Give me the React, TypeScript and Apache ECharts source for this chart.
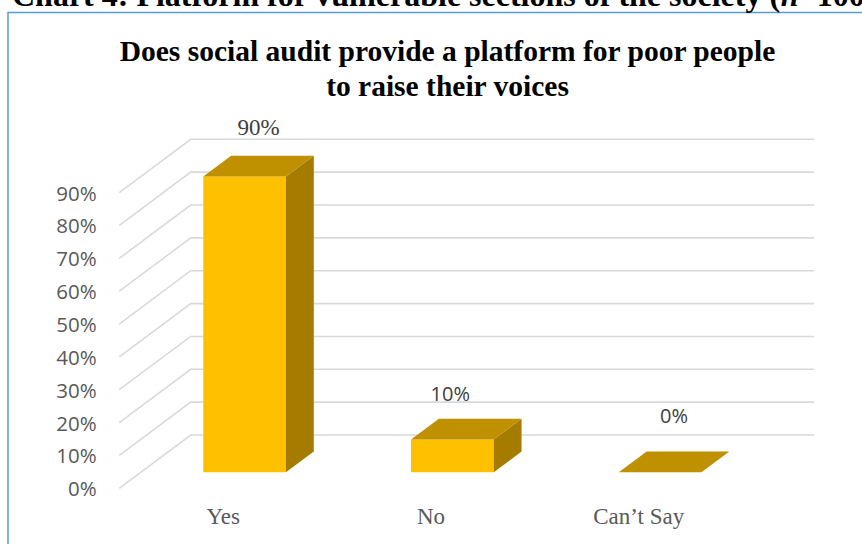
import React, { useEffect, useRef } from "react";
import * as echarts from "echarts";

const CATEGORIES = ["Yes", "No", "Can\u2019t Say"];
const VALUES = [90, 10, 0];
const TICKS = [0, 10, 20, 30, 40, 50, 60, 70, 80, 90];
const TITLE_LINES = ["Does social audit provide a platform for poor people", "to raise their voices"];
const CAPTION = "Chart 4: Platform for vulnerable sections of the society (";

const SERIF = "Liberation Serif";
const SANS = "Open Sans";

// 3D projection constants (pixels)
const WALL_DX = 71.4;
const WALL_DY = 53.3;
const BAR_FRONT = 0.3; // depth fraction of the bar's front face
const BAR_BACK = 0.69; // depth fraction of the bar's back face
const BAR_WIDTH_RATIO = 0.398;
const LABEL_FONTS = ["serif", "sans", "sans"];
const LABEL_SHIFT = [
  [0, -39],
  [-16, -35.5],
  [0, -46],
];

export default function App() {
  const ref = useRef<HTMLDivElement>(null);

  useEffect(() => {
    if (!ref.current) return;
    const chart = echarts.init(ref.current, undefined, { renderer: "svg" });

    const gridData = TICKS.map((t) => [0, t]);
    const barData = VALUES.map((v, i) => [i, v]);

    const option: any = {
      animation: false,
      backgroundColor: "#ffffff",
      title: {
        text: TITLE_LINES.join("\n"),
        left: 442.5,
        top: 28,
        textAlign: "center",
        textStyle: {
          fontFamily: SERIF,
          fontWeight: "bold",
          fontSize: 29.5,
          lineHeight: 35,
          color: "#000000",
        },
      },
      graphic: [
        {
          type: "rect",
          shape: { x: 8, y: 12.5, width: 900, height: 600 },
          style: { fill: "none", stroke: "#5B9BD5", lineWidth: 1.5 },
          z: 0,
        },
        {
          type: "text",
          x: 12,
          y: 11,
          style: {
            text: "{b|" + CAPTION + "}{i|n}{b|=100)}",
            verticalAlign: "bottom",
            rich: {
              b: {
                fontFamily: SERIF,
                fontWeight: "bold",
                fontSize: 32,
                lineHeight: 32,
                fill: "#000000",
              },
              i: {
                fontFamily: SERIF,
                fontWeight: "bold",
                fontStyle: "italic",
                fontSize: 32,
                lineHeight: 32,
                fill: "#000000",
              },
            },
          },
        },
      ],
      grid: { left: 119.3, top: 192.6, width: 623.3, height: 295.7 },
      xAxis: {
        type: "category",
        data: CATEGORIES,
        axisLine: { show: false },
        axisTick: { show: false },
        splitLine: { show: false },
        axisLabel: {
          margin: 17,
          fontFamily: SERIF,
          fontSize: 23,
          color: "#595959",
        },
      },
      yAxis: {
        type: "value",
        min: 0,
        max: 90,
        interval: 10,
        axisLine: { show: false },
        axisTick: { show: false },
        splitLine: { show: false },
        axisLabel: {
          margin: 22.6,
          formatter: "{value}%",
          fontFamily: SANS,
          fontSize: 20.5,
          color: "#595959",
        },
      },
      series: [
        {
          type: "custom",
          name: "walls",
          data: gridData,
          z: 1,
          silent: true,
          renderItem: (params: any, api: any) => {
            const cs = params.coordSys;
            const y = api.coord([0, api.value(1)])[1];
            const x0 = cs.x;
            const x1 = cs.x + cs.width;
            return {
              type: "polyline",
              shape: {
                points: [
                  [x0, y],
                  [x0 + WALL_DX, y - WALL_DY],
                  [x1 + WALL_DX, y - WALL_DY],
                ],
              },
              style: { fill: "none", stroke: "#D9D9D9", lineWidth: 1.6 },
            };
          },
        },
        {
          type: "custom",
          name: "bars",
          data: barData,
          z: 2,
          renderItem: (params: any, api: any) => {
            const idx = api.value(0);
            const val = api.value(1);
            const base = api.coord([idx, 0]);
            const top = api.coord([idx, val]);
            const bw = api.size([1, 0])[0] * BAR_WIDTH_RATIO;
            const fdx = WALL_DX * BAR_FRONT;
            const fdy = WALL_DY * BAR_FRONT;
            const ddx = WALL_DX * (BAR_BACK - BAR_FRONT);
            const ddy = WALL_DY * (BAR_BACK - BAR_FRONT);
            const fx0 = base[0] - bw / 2 + fdx;
            const fx1 = fx0 + bw;
            const fyB = base[1] - fdy;
            const fyT = top[1] - fdy;
            const children: any[] = [];
            if (fyB - fyT > 0.5) {
              children.push({
                type: "polygon",
                shape: { points: [[fx0, fyT], [fx1, fyT], [fx1, fyB], [fx0, fyB]] },
                style: { fill: "#FFC000" },
              });
              children.push({
                type: "polygon",
                shape: {
                  points: [
                    [fx1, fyT],
                    [fx1 + ddx, fyT - ddy],
                    [fx1 + ddx, fyB - ddy],
                    [fx1, fyB],
                  ],
                },
                style: { fill: "#A57C00" },
              });
            }
            children.push({
              type: "polygon",
              shape: {
                points: [
                  [fx0, fyT],
                  [fx0 + ddx, fyT - ddy],
                  [fx1 + ddx, fyT - ddy],
                  [fx1, fyT],
                ],
              },
              style: { fill: "#BF9000" },
            });
            const i = params.dataIndex;
            const serif = LABEL_FONTS[i] === "serif";
            children.push({
              type: "text",
              x: (fx0 + fx1) / 2 + ddx / 2 + LABEL_SHIFT[i][0],
              y: fyT - ddy / 2 + LABEL_SHIFT[i][1],
              style: {
                text: val + "%",
                align: "center",
                verticalAlign: "middle",
                fontFamily: serif ? SERIF : SANS,
                fontSize: serif ? 23 : 20,
                fill: "#404040",
              },
            });
            return { type: "group", children };
          },
        },
      ],
    };

    chart.setOption(option);
    return () => chart.dispose();
  }, []);

  return (
    <div
      ref={ref}
      style={{ position: "absolute", left: 0, top: 0, width: 862, height: 544 }}
    />
  );
}
